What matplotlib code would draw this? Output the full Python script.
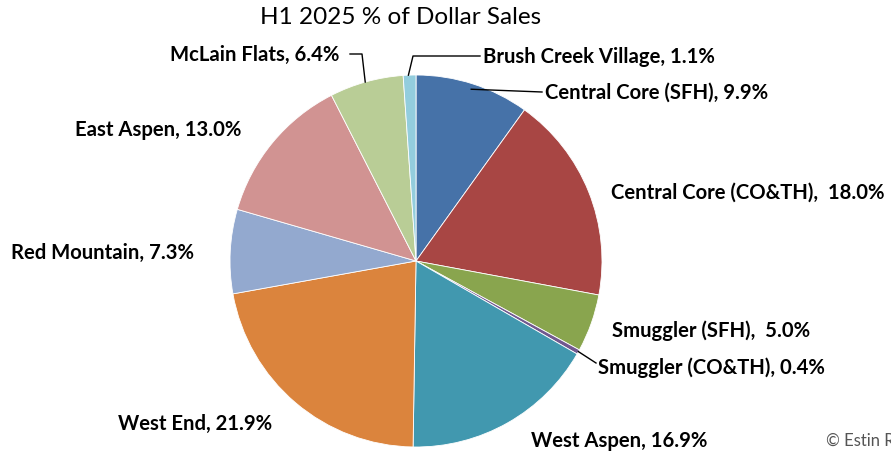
import numpy as np
import matplotlib
matplotlib.use('Agg')
import matplotlib.pyplot as plt

plt.rcParams['font.family'] = ['Lato', 'DejaVu Sans']

regions = ['Central Core (SFH)', 'Central Core (CO&TH)', 'Smuggler (SFH)',
           'Smuggler (CO&TH)', 'West Aspen', 'West End', 'Red Mountain',
           'East Aspen', 'McLain Flats', 'Brush Creek Village']
share = [9.9, 18.0, 5.0, 0.4, 16.9, 21.9, 7.3, 13.0, 6.4, 1.1]
colors = ['#4672A8', '#A84644', '#89A54E', '#71588F', '#4198AF',
          '#DB843D', '#93A9CF', '#D19392', '#B9CD96', '#93CDDD']

W, H = 891, 456
cx, cy, R = 416, 262, 186


def px(x, y):
    # pixel (from top-left) -> data coords of the pie axes
    return (x - cx) / R, (cy - y) / R


fig = plt.figure(figsize=(W / 100, H / 100), dpi=100)
ax = fig.add_axes([(cx - R) / W, (H - cy - R) / H, 2 * R / W, 2 * R / H])
ax.pie(share, colors=colors, startangle=90, counterclock=False, radius=1,
       wedgeprops=dict(edgecolor='white', linewidth=0.6))
ax.set_xlim(-1, 1)
ax.set_ylim(-1, 1)
ax.set_aspect('equal')
ax.axis('off')

# label layout: left edge x, centre y (pixels), gap before the value
label_pos = [(545, 93), (611, 193), (612, 331), (598, 368), (531, 441),
             (118, 424), (11, 253), (75, 130), (170, 55), (483, 57)]
gaps = [' ', '  ', '  ', ' ', ' ', ' ', ' ', ' ', ' ', ' ']

for name, val, (lx, ly), g in zip(regions, share, label_pos, gaps):
    tx, ty = px(lx, ly)
    ax.text(tx, ty, '{},{}{:.1f}%'.format(name, g, val), ha='left',
            va='center', fontsize=14.6, fontweight='bold', clip_on=False)

# leader lines
cum = np.cumsum([0] + share)
mid = 90 - (cum[:-1] + np.array(share) / 2) * 3.6


def edge(i, r=1.0):
    a = np.radians(mid[i])
    return r * np.cos(a), r * np.sin(a)


def leader(points):
    xs, ys = zip(*points)
    ax.plot(xs, ys, color='black', lw=1, clip_on=False)


leader([edge(0, 0.97), px(542, 93)])
leader([edge(3), px(596, 364)])
leader([edge(8), px(362, 55), px(350, 55)])
leader([edge(9), px(413, 57), px(480, 57)])

fig.text(401 / W, 1 - 18 / H, 'H1 2025 % of Dollar Sales', ha='center',
         va='center', fontsize=17.5)
fig.text(826 / W, 1 - 441 / H, '\u00a9 Estin Report', ha='left',
         va='center', fontsize=12, color='#555555')

fig.savefig('out.png', dpi=100)
